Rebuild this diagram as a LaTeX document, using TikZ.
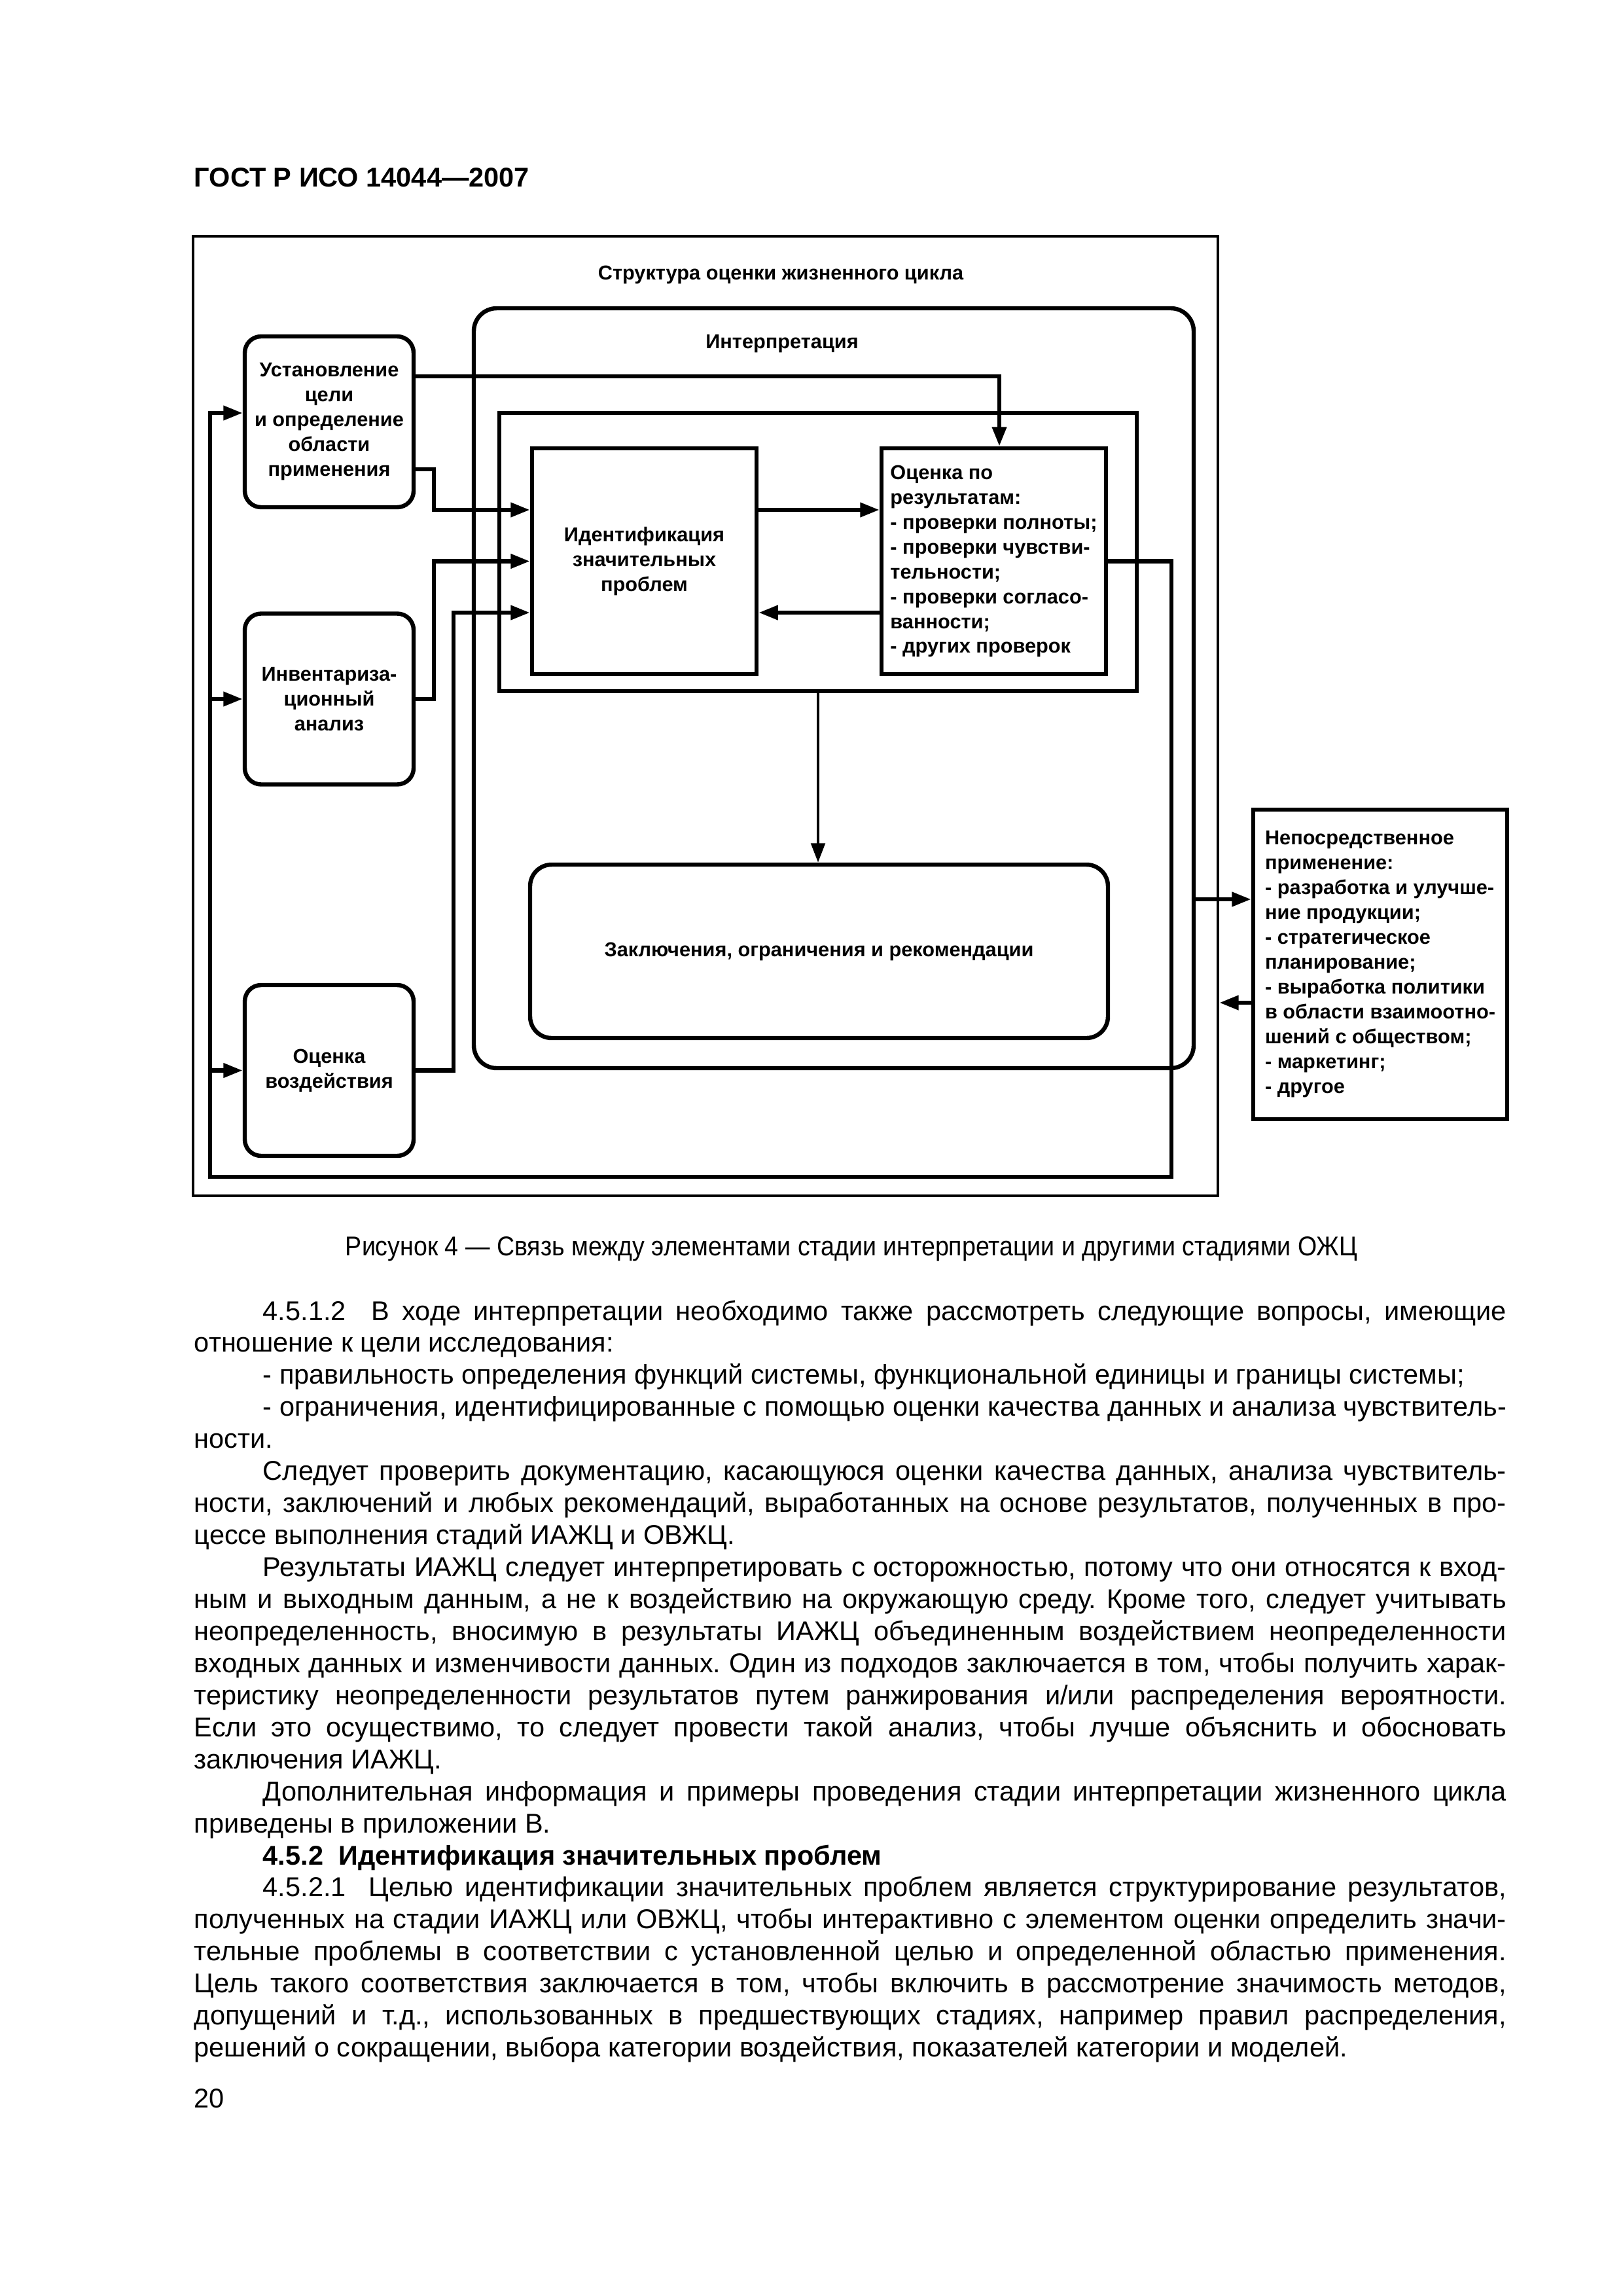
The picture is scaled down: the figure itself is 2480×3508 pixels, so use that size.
\documentclass[tikz,border=0pt]{standalone}
\usepackage{fontspec}
\usepackage{graphicx}
\setmainfont{Liberation Sans}
\usetikzlibrary{arrows.meta}

\newlength{\pxu}
\setlength{\pxu}{0.084677mm}
\newlength{\bodyind}
\setlength{\bodyind}{105\pxu}
% justified lines of the page text
\newcommand{\jfirst}[1]{\noindent\hspace*{\bodyind}\makebox[\dimexpr\linewidth-\bodyind\relax][s]{#1}\par}
\newcommand{\jmid}[1]{\noindent\makebox[\linewidth][s]{#1}\par}
\newcommand{\jlast}[1]{\noindent #1\par}
\newcommand{\jsole}[1]{\noindent\hspace*{\bodyind}#1\par}

\begin{document}
\begin{tikzpicture}[
    x=0.084677mm, y=-0.084677mm,
    txt/.style={font=\fontsize{7.4pt}{9.15pt}\selectfont\bfseries, inner sep=0},
    stage/.style={draw, line width=1.55pt, rounded corners=25\pxu, txt, align=center,
        minimum width=258\pxu, minimum height=261\pxu},
    block/.style={draw, line width=1.55pt, txt, minimum width=343\pxu, minimum height=345\pxu},
    conn/.style={line width=1.55pt},
    arr/.style={conn, -{Triangle[length=2.5mm, width=1.8mm]}},
    body/.style={font=\fontsize{10pt}{11.79pt}\selectfont, inner sep=0},
    ]

    \useasboundingbox (0,0) rectangle (2480,3508);
    \fill[white] (0,0) rectangle (2480,3508);

    % --- Page head ---
    \node[body, font=\fontsize{10pt}{11.79pt}\selectfont\bfseries, anchor=base west] (head) at (296,285) {ГОСТ Р ИСО 14044—2007};

    % --- Frames ---
    \node[draw, line width=1.05pt, minimum width=1566\pxu, minimum height=1466\pxu] (frame) at (1078,1094) {};
    \node[txt, anchor=base] (frametitle) at (1193,427) {Структура оценки жизненного цикла};
    \node[draw, line width=1.55pt, rounded corners=35\pxu, minimum width=1100\pxu, minimum height=1161\pxu] (interp) at (1274,1051.5) {};
    \node[txt, anchor=base] (interptitle) at (1195,532) {Интерпретация};
    \node[draw, line width=1.55pt, minimum width=974\pxu, minimum height=425\pxu] (core) at (1250,843.5) {};

    % --- Boxes ---
    \node[block, align=center] (ident) at (984.5,857.5) {Идентификация\\значительных\\проблем};
    \node[block, align=left] (eval) at (1518.5,857.5) {Оценка по\\результатам:\\- проверки полноты;\\- проверки чувстви-\\тельности;\\- проверки согласо-\\ванности;\\- других проверок};
    \node[stage, rounded corners=33\pxu, minimum width=883\pxu, minimum height=265\pxu] (concl) at (1251.5,1453.5) {Заключения, ограничения и рекомендации};

    \node[stage] (goal) at (503,644.5) {Установление\\цели\\и определение\\области\\применения};
    \node[stage] (inv) at (503,1068) {Инвентариза-\\ционный\\анализ};
    \node[stage] (impact) at (503,1635.5) {Оценка\\воздействия};

    \node[draw, line width=1.55pt, txt, align=left, minimum width=388\pxu, minimum height=473\pxu] (apply) at (2109,1473.5) {Непосредственное\\применение:\\- разработка и улучше-\\ние продукции;\\- стратегическое\\планирование;\\- выработка политики\\в области взаимоотно-\\шений с обществом;\\- маркетинг;\\- другое};

    % --- Feedback loop round the phases ---
    \coordinate (loopTR) at (1790,857.5);
    \coordinate (loopBR) at (1790,1798);
    \coordinate (loopBL) at (321,1798);
    \coordinate (loopTL) at (321,631);
    \draw[arr] (eval.east) -- (loopTR) -- (loopBR) -- (loopBL) -- (loopTL) -- (goal.west |- loopTL);
    \draw[arr] (loopBL |- inv.west) -- (inv.west);
    \draw[arr] (loopBL |- impact.west) -- (impact.west);

    % --- Phases into the interpretation ---
    \draw[arr] (goal.east |- 0,575) -| (1527,0 |- eval.north);
    \draw[arr] (goal.east |- 0,717) -| (663,779) -- (ident.west |- 0,779);
    \draw[arr] (inv.east) -| (663,857.5) -- (ident.west);
    \draw[arr] (impact.east) -| (693,936) -- (ident.west |- 0,936);

    % --- Inside the interpretation ---
    \draw[arr] (ident.east |- 0,779) -- (eval.west |- 0,779);
    \draw[arr] (eval.west |- 0,936) -- (ident.east |- 0,936);
    \draw[arr, line width=1.1pt] (core.south) -- (core.south |- concl.north);

    % --- Applications ---
    \draw[arr] (interp.east |- 0,1374) -- (apply.west |- 0,1374);
    \draw[arr] (apply.west |- 0,1532) -- (frame.east |- 0,1532);

    % --- Caption and text ---
    \node[body, anchor=base] (caption) at (1301,1918) {\scalebox{0.904}[1]{Рисунок 4 — Связь между элементами стадии интерпретации и другими стадиями ОЖЦ}};

    \node[body, anchor=base west] (text) at (296,2017) {\parbox[t]{2005\pxu}{\fontsize{10pt}{11.79pt}\selectfont\frenchspacing
        \jfirst{4.5.1.2\ \ В ходе интерпретации необходимо также рассмотреть следующие вопросы, имеющие}
        \jlast{отношение к цели исследования:}
        \jsole{- правильность определения функций системы, функциональной единицы и границы системы;}
        \jfirst{- ограничения, идентифицированные с помощью оценки качества данных и анализа чувствитель-}
        \jlast{ности.}
        \jfirst{Следует проверить документацию, касающуюся оценки качества данных, анализа чувствитель-}
        \jmid{ности, заключений и любых рекомендаций, выработанных на основе результатов, полученных в про-}
        \jlast{цессе выполнения стадий ИАЖЦ и ОВЖЦ.}
        \jfirst{Результаты ИАЖЦ следует интерпретировать с осторожностью, потому что они относятся к вход-}
        \jmid{ным и выходным данным, а не к воздействию на окружающую среду. Кроме того, следует учитывать}
        \jmid{неопределенность, вносимую в результаты ИАЖЦ объединенным воздействием неопределенности}
        \jmid{входных данных и изменчивости данных. Один из подходов заключается в том, чтобы получить харак-}
        \jmid{теристику неопределенности результатов путем ранжирования и/или распределения вероятности.}
        \jmid{Если это осуществимо, то следует провести такой анализ, чтобы лучше объяснить и обосновать}
        \jlast{заключения ИАЖЦ.}
        \jfirst{Дополнительная информация и примеры проведения стадии интерпретации жизненного цикла}
        \jlast{приведены в приложении В.}
        \jsole{\textbf{4.5.2\ \ Идентификация значительных проблем}}
        \jfirst{4.5.2.1\ \ Целью идентификации значительных проблем является структурирование результатов,}
        \jmid{полученных на стадии ИАЖЦ или ОВЖЦ, чтобы интерактивно с элементом оценки определить значи-}
        \jmid{тельные проблемы в соответствии с установленной целью и определенной областью применения.}
        \jmid{Цель такого соответствия заключается в том, чтобы включить в рассмотрение значимость методов,}
        \jmid{допущений и т.д., использованных в предшествующих стадиях, например правил распределения,}
        \jlast{решений о сокращении, выбора категории воздействия, показателей категории и моделей.}
    }};

    \node[body, anchor=base west] (pagenum) at (296,3220) {20};

\end{tikzpicture}
\end{document}
